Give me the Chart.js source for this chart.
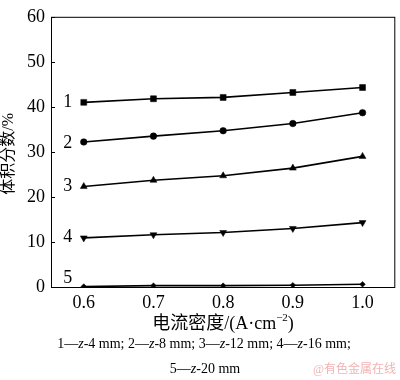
<!DOCTYPE html>
<html>
<head>
<meta charset="utf-8">
<script src="https://cdn.jsdelivr.net/npm/chart.js@4/dist/chart.umd.min.js"></script>
<style>
  html, body { margin: 0; padding: 0; background: #fff; }
  #wrap { width: 400px; height: 380px; }
</style>
</head>
<body>
<div id="wrap"><canvas id="chart" width="400" height="380"></canvas></div>
<script>
// --- Data ---
const currentDensity = [0.6, 0.7, 0.8, 0.9, 1.0];
const z4mm  = [41.0, 41.8, 42.1, 43.2, 44.3];
const z8mm  = [32.2, 33.5, 34.7, 36.3, 38.7];
const z12mm = [22.3, 23.7, 24.7, 26.4, 29.0];
const z16mm = [10.9, 11.6, 12.1, 13.0, 14.3];
const z20mm = [0.1, 0.3, 0.3, 0.4, 0.6];
const seriesNames = ['1', '2', '3', '4', '5'];
const xTicks = [0.6, 0.7, 0.8, 0.9, 1.0];
const yTicks = [0, 10, 20, 30, 40, 50, 60];

const serif = "'Liberation Serif', 'Times New Roman', 'Noto Sans CJK SC', serif";
const cjk = "'Liberation Serif', 'Noto Sans CJK SC', serif";

function pts(ys) {
    return currentDensity.map(function (x, i) { return { x: x, y: ys[i] }; });
}

function makeSet(label, ys, style, radius, rotation) {
    return {
        label: label,
        data: pts(ys),
        borderColor: '#000',
        backgroundColor: '#000',
        borderWidth: 1.6,
        pointStyle: style,
        pointRadius: radius,
        pointRotation: rotation || 0,
        pointBorderWidth: 0.5,
        tension: 0
    };
}

// draws the box, inner y ticks, series numbers and all titles
const decorations = {
    id: 'decorations',
    afterDraw(chart) {
        const ctx = chart.ctx;
        const a = chart.chartArea;
        const xs = chart.scales.x, ys = chart.scales.y;
        ctx.save();
        ctx.strokeStyle = '#000';
        ctx.lineWidth = 1;
        ctx.strokeRect(a.left + 0.5, a.top + 0.5, a.right - a.left - 1, a.bottom - a.top);

        // small ticks pointing into the plot
        yTicks.forEach(function (v) {
            const py = Math.round(ys.getPixelForValue(v)) + 0.5;
            ctx.beginPath();
            ctx.moveTo(a.left, py);
            ctx.lineTo(a.left + 4, py);
            ctx.stroke();
        });

        ctx.fillStyle = '#000';
        // series numbers beside the first point
        ctx.font = '18px ' + serif;
        ctx.textAlign = 'center';
        ctx.textBaseline = 'middle';
        const firsts = [z4mm[0], z8mm[0], z12mm[0], z16mm[0], z20mm[0]];
        const offs = [0, 1, 0, -1, -8];
        seriesNames.forEach(function (n, i) {
            ctx.fillText(n, xs.getPixelForValue(currentDensity[0]) - 16,
                ys.getPixelForValue(firsts[i]) + offs[i]);
        });

        // y title
        ctx.save();
        ctx.translate(9, (a.top + a.bottom) / 2 + 2);
        ctx.rotate(-Math.PI / 2);
        ctx.font = '16px ' + cjk;
        ctx.fillText('体积分数/%', 0, 0);
        ctx.restore();

        // x title with superscript
        ctx.textAlign = 'left';
        const t1 = '电流密度/(A·cm', t2 = '−2', t3 = ')';
        ctx.font = '18px ' + cjk;
        const w1 = ctx.measureText(t1).width;
        ctx.font = '11px ' + serif;
        const w2 = ctx.measureText(t2).width;
        ctx.font = '18px ' + cjk;
        const w3 = ctx.measureText(t3).width;
        let x0 = 223 - (w1 + w2 + w3) / 2;
        const ty = 324;
        ctx.fillText(t1, x0, ty);
        ctx.font = '11px ' + serif;
        ctx.fillText(t2, x0 + w1, ty - 6);
        ctx.font = '18px ' + cjk;
        ctx.fillText(t3, x0 + w1 + w2, ty);

        // legend note lines, z in italic
        function noteLine(parts, cx, y) {
            let total = 0;
            parts.forEach(function (p) {
                ctx.font = (p.i ? 'italic ' : '') + '14px ' + serif;
                p.w = ctx.measureText(p.t).width;
                total += p.w;
            });
            let x = cx - total / 2;
            parts.forEach(function (p) {
                ctx.font = (p.i ? 'italic ' : '') + '14px ' + serif;
                ctx.fillText(p.t, x, y);
                x += p.w;
            });
        }
        noteLine([
            { t: '1—' }, { t: 'z', i: true }, { t: '-4 mm; 2—' }, { t: 'z', i: true },
            { t: '-8 mm; 3—' }, { t: 'z', i: true }, { t: '-12 mm; 4—' }, { t: 'z', i: true },
            { t: '-16 mm;' }
        ], 204, 344);
        noteLine([{ t: '5—' }, { t: 'z', i: true }, { t: '-20 mm' }], 205, 369);

        // watermark
        ctx.font = '12px ' + cjk;
        ctx.fillStyle = '#f2b3b3';
        ctx.textAlign = 'right';
        ctx.fillText('@有色金属在线', 396, 370);
        ctx.restore();
    }
};

new Chart(document.getElementById('chart'), {
    type: 'line',
    data: {
        datasets: [
            makeSet('z-4 mm', z4mm, 'rect', 4.2),
            makeSet('z-8 mm', z8mm, 'circle', 3.3),
            makeSet('z-12 mm', z12mm, 'triangle', 4),
            makeSet('z-16 mm', z16mm, 'triangle', 4, 180),
            makeSet('z-20 mm', z20mm, 'rectRot', 2.8)
        ]
    },
    options: {
        responsive: false,
        animation: false,
        layout: { padding: { left: 0, top: 5, right: 4, bottom: 0 } },
        plugins: {
            legend: { display: false },
            tooltip: { enabled: false }
        },
        scales: {
            x: {
                type: 'linear',
                min: 0.553,
                max: 1.047,
                afterBuildTicks: function (s) { s.ticks = xTicks.map(function (v) { return { value: v }; }); },
                afterFit: function (s) { s.height = 93; },
                grid: { display: false, drawTicks: false },
                border: { display: false },
                ticks: {
                    color: '#000',
                    padding: 5,
                    font: { family: serif, size: 18 },
                    callback: function (v) { return Number(v).toFixed(1); }
                }
            },
            y: {
                min: 0,
                max: 60,
                afterBuildTicks: function (s) { s.ticks = yTicks.map(function (v) { return { value: v }; }); },
                afterFit: function (s) { s.width = 51; },
                grid: { display: false, drawTicks: false },
                border: { display: false },
                ticks: {
                    color: '#000',
                    padding: 6,
                    font: { family: serif, size: 18 }
                }
            }
        }
    },
    plugins: [decorations]
});
</script>
</body>
</html>
